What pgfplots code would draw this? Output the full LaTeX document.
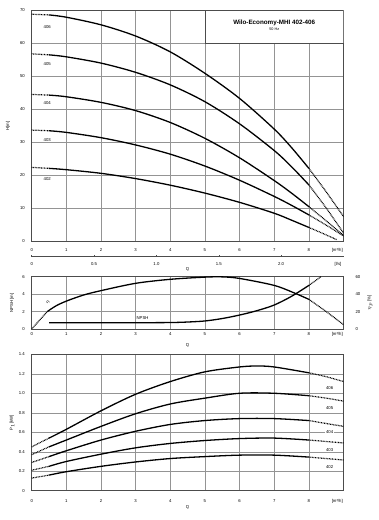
\documentclass[border=0pt]{standalone}
\usepackage{pgfplots}
\pgfplotsset{compat=1.18}
\usepackage{fontspec}
\setmainfont{Liberation Sans}
\newcommand{\tk}{\fontsize{4.3}{5}\selectfont}
\definecolor{gridc}{gray}{0.58}
\definecolor{framec}{gray}{0.3}
\pgfplotsset{
  wilo/.style={
    scale only axis, width=311.8bp,
    xmin=0, xmax=9,
    xtick={0,...,8},
    extra x ticks={8.82},
    extra x tick labels={[m³/h]},
    extra x tick style={grid=none, major tick length=0pt},
    grid=major,
    grid style={gridc, line width=0.45bp},
    axis line style={framec, line width=0.6bp},
    major tick length=0pt,
    tick label style={font=\tk},
    /pgf/number format/assume math mode=true,
    yticklabel style={xshift=-3.3bp},
    anchor=south west,
  },
}
\tikzset{
  sol/.style={black, line width=1.3bp, smooth},
  dts/.style={black, line width=1.2bp, dash pattern=on 0.8bp off 0.75bp, smooth},
  lab/.style={font=\tk, fill=white, inner sep=0.6bp},
}
\begin{document}
\begin{tikzpicture}[x=1bp,y=1bp]
\useasboundingbox (0,0) rectangle (378,520);

% ---------------- top: H(Q)
\begin{axis}[wilo, height=231bp, at={(31.7bp,278.7bp)},
  ymin=0, ymax=70, ytick={0,10,...,70},
  xticklabel style={yshift=-3.7bp}]
\draw[framec, line width=0.6bp, fill=white] (axis cs:5,60) rectangle (axis cs:9,70);
\node[font=\fontsize{6.3}{7}\selectfont\bfseries] at (axis cs:7,66.3) {Wilo-Economy-MHI 402-406};
\node[font=\fontsize{3.8}{4.5}\selectfont] at (axis cs:7,64.2) {50 Hz};
% 406
\addplot[dts] coordinates {(0,68.8)(0.5,68.6)};
\addplot[sol] coordinates {(0.5,68.6)(1,67.9)(2,65.6)(3,62.2)(4,57.4)(5,50.9)(6,43.3)(7,34.0)(7.5,28.4)(8,22.1)};
\addplot[dts] coordinates {(8,22.1)(8.5,15.0)(9,7.5)};
% 405
\addplot[dts] coordinates {(0,56.8)(0.5,56.5)};
\addplot[sol] coordinates {(0.5,56.5)(1,55.9)(2,54.0)(3,51.2)(4,47.4)(5,42.3)(6,35.6)(7,27.5)(7.5,22.6)(8,17.1)};
\addplot[dts] coordinates {(8,17.1)(8.5,10.1)(9,2.5)};
% 404
\addplot[dts] coordinates {(0,44.5)(0.5,44.3)};
\addplot[sol] coordinates {(0.5,44.3)(1,43.8)(2,42.1)(3,39.6)(4,36.0)(5,31.2)(6,25.3)(7,18.4)(7.5,14.6)(8,10.5)};
\addplot[dts] coordinates {(8,10.5)(8.5,6.2)(9,1.8)};
% 403
\addplot[dts] coordinates {(0,33.7)(0.5,33.5)};
\addplot[sol] coordinates {(0.5,33.5)(1,33.0)(2,31.4)(3,29.2)(4,26.4)(5,22.8)(6,18.5)(7,13.6)(7.5,10.9)(8,8.0)};
\addplot[dts] coordinates {(8,8.0)(8.5,4.9)(9,1.6)};
% 402
\addplot[dts] coordinates {(0,22.4)(0.5,22.1)};
\addplot[sol] coordinates {(0.5,22.1)(1,21.7)(2,20.6)(3,19.0)(4,17.0)(5,14.6)(6,11.8)(7,8.5)(7.5,6.4)(8,4.2)};
\addplot[dts] coordinates {(8,4.2)(8.4,2.4)(8.8,0.5)};
\node[lab] at (axis cs:0.45,65.0) {406};
\node[lab] at (axis cs:0.45,53.7) {405};
\node[lab] at (axis cs:0.45,41.9) {404};
\node[lab] at (axis cs:0.45,30.6) {403};
\node[lab] at (axis cs:0.45,18.9) {402};
\end{axis}

% ---------------- l/s scale
\begin{axis}[scale only axis, width=311.8bp, height=6bp, at={(31.7bp,263.3bp)}, anchor=south west,
  xmin=0, xmax=2.5, ymin=0, ymax=1,
  axis x line*=bottom, axis y line=none,
  axis line style={framec, line width=0.5bp, -},
  xtick={0,0.5,1,1.5,2}, xticklabels={0,0.5,1.0,1.5,2.0},
  extra x ticks={2.456}, extra x tick labels={[l/s]},
  extra x tick style={major tick length=0pt},
  major tick length=1.8bp, tick style={framec, line width=0.5bp},
  tick align=inside,
  tick label style={font=\tk},
  xticklabel style={yshift=-2.5bp},
  /pgf/number format/assume math mode=true]
\addplot[draw=none] coordinates {(0,0)(2.5,1)};
\end{axis}

% ---------------- middle: NPSH + eta
\begin{axis}[wilo, height=52.3bp, at={(31.7bp,191bp)},
  ymin=0, ymax=6, ytick={0,2,4,6},
  xticklabel style={yshift=-0.3bp}]
\addplot[sol] coordinates {(0.5,0.72)(1,0.72)(2,0.72)(3,0.72)(4,0.74)(4.5,0.8)(5,0.92)(5.5,1.2)(6,1.6)(6.5,2.1)(7,2.75)(7.5,3.75)(8,5.0)};
\addplot[dts] coordinates {(8,5.0)(8.35,6.0)};
\node[font=\tk, inner sep=0.5bp] at (axis cs:3.2,1.25) {NPSH};
\end{axis}
\begin{axis}[scale only axis, width=311.8bp, height=52.3bp, at={(31.7bp,191bp)}, anchor=south west,
  xmin=0, xmax=9, ymin=0, ymax=60, ytick={0,20,40,60},
  axis x line=none, axis y line*=right,
  axis line style={framec, line width=0.6bp},
  major tick length=0pt,
  tick label style={font=\tk},
  yticklabel style={xshift=8.5bp},
  /pgf/number format/assume math mode=true]
\addplot[dts] coordinates {(0,0)(0.45,20)};
\addplot[sol] coordinates {(0.45,20)(0.7,26.5)(1,32)(1.5,39)(2,44)(3,52.4)(4,57)(5,59.5)(5.5,59.8)(6,58)(7,50)(7.6,41)(8,34)};
\addplot[dts] coordinates {(8,34)(8.5,20)(9,5)};
\node[font=\tk, rotate=60] at (axis cs:0.47,30.6) {$\eta$};
\end{axis}

% ---------------- bottom: P1
\begin{axis}[wilo, height=136.4bp, at={(31.7bp,29.3bp)},
  ymin=0, ymax=1.4, ytick={0,0.2,...,1.41},
  yticklabels={0,0.2,0.4,0.6,0.8,1.0,1.2,1.4},
  xticklabel style={yshift=-5.2bp}]
% 406
\addplot[dts] coordinates {(0,0.45)(0.5,0.54)};
\addplot[sol] coordinates {(0.5,0.54)(1,0.63)(2,0.82)(3,0.99)(4,1.12)(5,1.22)(6,1.27)(6.5,1.28)(7,1.27)(8,1.21)};
\addplot[dts] coordinates {(8,1.21)(8.5,1.17)(9,1.12)};
% 405
\addplot[dts] coordinates {(0,0.37)(0.5,0.45)};
\addplot[sol] coordinates {(0.5,0.45)(1,0.52)(2,0.66)(3,0.79)(4,0.89)(5,0.95)(6,1.0)(7,1.0)(8,0.975)};
\addplot[dts] coordinates {(8,0.975)(8.5,0.95)(9,0.92)};
% 404
\addplot[dts] coordinates {(0,0.29)(0.5,0.35)};
\addplot[sol] coordinates {(0.5,0.35)(1,0.41)(2,0.52)(3,0.61)(4,0.68)(5,0.72)(6,0.74)(7,0.74)(8,0.72)};
\addplot[dts] coordinates {(8,0.72)(8.5,0.69)(9,0.66)};
% 403
\addplot[dts] coordinates {(0,0.21)(0.5,0.25)};
\addplot[sol] coordinates {(0.5,0.25)(1,0.30)(2,0.375)(3,0.44)(4,0.485)(5,0.515)(6,0.535)(7,0.54)(8,0.52)};
\addplot[dts] coordinates {(8,0.52)(8.5,0.505)(9,0.49)};
% 402
\addplot[dts] coordinates {(0,0.13)(0.5,0.16)};
\addplot[sol] coordinates {(0.5,0.16)(1,0.195)(2,0.25)(3,0.295)(4,0.33)(5,0.35)(6,0.365)(7,0.365)(8,0.345)};
\addplot[dts] coordinates {(8,0.345)(8.5,0.33)(9,0.315)};
\node[lab] at (axis cs:8.6,1.05) {406};
\node[lab] at (axis cs:8.6,0.845) {405};
\node[lab] at (axis cs:8.6,0.605) {404};
\node[lab] at (axis cs:8.6,0.42) {403};
\node[lab] at (axis cs:8.6,0.246) {402};
\end{axis}

% ---------------- axis labels
\node[font=\tk, rotate=90] at (8,394.2) {H[m]};
\node[font=\tk] at (187.6,251) {Q};
\node[font=\tk, rotate=90] at (12,217.2) {NPSH [m]};
\node[font=\tk, rotate=90] at (370,217.2) {$\eta_p$ [\%]};
\node[font=\tk] at (187.6,175) {Q};
\node[font=\tk, rotate=90] at (12,97.5) {P$_1$[kW]};
\node[font=\tk] at (187.6,13) {Q};
\end{tikzpicture}
\end{document}
